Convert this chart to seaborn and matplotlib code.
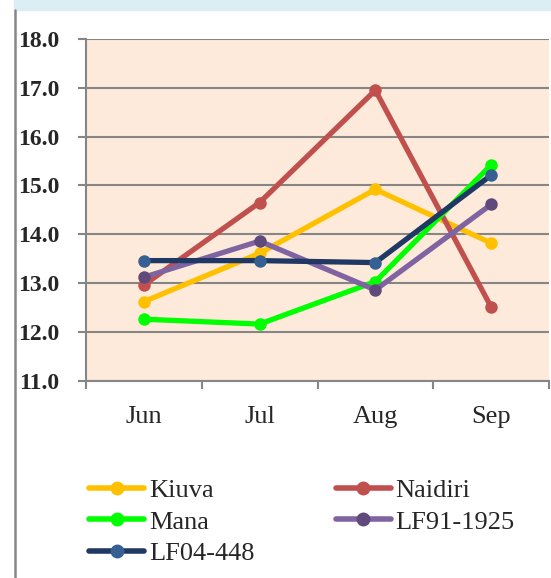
import matplotlib
matplotlib.use("Agg")
import matplotlib.pyplot as plt
import seaborn as sns
import pandas as pd
from matplotlib.lines import Line2D
from matplotlib.patches import Rectangle

months = ["Jun", "Jul", "Aug", "Sep"]
kiuva = [12.62, 13.61, 14.92, 13.82]
naidiri = [12.96, 14.65, 16.95, 12.51]
mana = [12.26, 12.16, 13.03, 15.42]
lf91 = [13.12, 13.86, 12.86, 14.61]
lf04 = [13.46, 13.46, 13.42, 15.21]
series_names = ["Kiuva", "Naidiri", "Mana", "LF91-1925", "LF04-448"]
line_colors = ["#FFC000", "#C0504D", "#00FF00", "#8064A2", "#1F3864"]
marker_colors = ["#FFC000", "#C0504D", "#00FF00", "#604A7B", "#376092"]
yticks = [11.0, 12.0, 13.0, 14.0, 15.0, 16.0, 17.0, 18.0]

values = [kiuva, naidiri, mana, lf91, lf04]
df = pd.DataFrame({
    "month": months * len(series_names),
    "value": [v for s in values for v in s],
    "series": [n for n in series_names for _ in months],
})

sns.set_theme(style="white")
plt.rcParams["font.family"] = ["Liberation Serif", "DejaVu Serif"]

W, H = 551, 578
fig = plt.figure(figsize=(W / 100, H / 100), dpi=100)
fig.patch.set_facecolor("white")
# light-blue strip on top & left border line
fig.patches.append(Rectangle((14 / W, 1 - 10 / H), 1 - 14 / W, 10 / H,
                             transform=fig.transFigure, color="#DAEEF3", zorder=0))
fig.lines.append(Line2D([14.5 / W, 14.5 / W], [0, 1 - 10 / H], transform=fig.transFigure,
                        color="#868686", lw=1.8))

ax = fig.add_axes([86 / W, 1 - 380.7 / H, 463 / W, (380.7 - 39) / H])
ax.set_facecolor("#FDEADA")

palette = dict(zip(series_names, line_colors))
sns.lineplot(data=df, x="month", y="value", hue="series", palette=palette,
             hue_order=series_names, sort=False, lw=3.8, marker="o",
             markersize=9, markeredgewidth=0, ax=ax, legend=False, zorder=3)

for ln, mc in zip(ax.get_lines(), marker_colors):
    ln.set_markerfacecolor(mc)
    ln.set_markeredgecolor(mc)

ax.set_xlim(-0.5, 3.5)
ax.set_ylim(11, 18)
ax.set_yticks(yticks)
ax.set_yticklabels([f"{t:.1f}" for t in yticks], fontsize=17, fontweight="bold")
ax.yaxis.grid(True, color="#868686", lw=1.5)
ax.set_axisbelow(True)
ax.set_xlabel("")
ax.set_ylabel("")
ax.set_xticks(range(len(months)))
ax.set_xticklabels(months, fontsize=19)
ax.set_xticks([-0.5, 0.5, 1.5, 2.5, 3.5], minor=True)
ax.tick_params(axis="x", which="major", length=0, pad=18)
ax.tick_params(axis="x", which="minor", length=6, width=1.5, color="#868686", direction="out", bottom=True)
ax.tick_params(axis="y", which="major", length=6, width=1.5, color="#868686", direction="out", pad=13, left=True)
for s in ["top", "right"]:
    ax.spines[s].set_visible(False)
for s in ["left", "bottom"]:
    ax.spines[s].set_color("#868686")
    ax.spines[s].set_linewidth(1.5)

order = [0, 2, 4, 1, 3]
handles = [Line2D([], [], color=line_colors[i], lw=4, marker="o", markersize=9,
                  markerfacecolor=marker_colors[i], markeredgecolor=marker_colors[i])
           for i in order]
labels = [series_names[i] for i in order]
fig.legend(handles, labels, ncol=2, frameon=False, fontsize=19,
           loc="upper left", bbox_to_anchor=(65.5 / W, 1 - 455 / H),
           handlelength=2.08, handletextpad=0.19, columnspacing=3.07, labelspacing=0.3)

fig.savefig("out.png", dpi=100)
